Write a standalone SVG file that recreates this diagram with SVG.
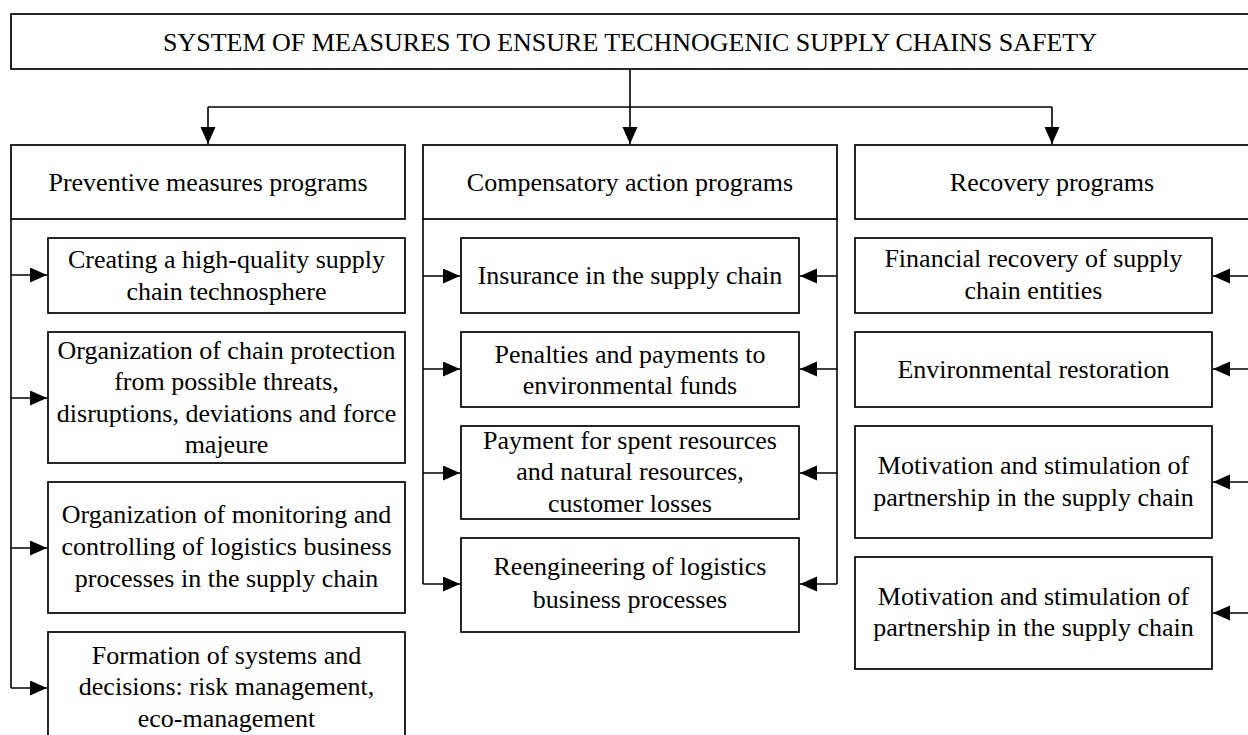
<svg xmlns="http://www.w3.org/2000/svg" width="1248" height="735" viewBox="0 0 1248 735">
  <style>
    .box { fill: #ffffff; stroke: #000000; stroke-width: 1.7; }
    .wire { fill: none; stroke: #000000; stroke-width: 1.6; }
    .lbl { font-family: "Liberation Serif", "Times New Roman", "DejaVu Serif", serif; font-size: 26px; fill: #000000; text-anchor: middle; }
  </style>
  <defs>
    <marker id="arrow" markerUnits="userSpaceOnUse" markerWidth="18" markerHeight="16" refX="17" refY="7.5" orient="auto">
      <path d="M0,0 L17,7.5 L0,15 Z" fill="#000000"/>
    </marker>
  </defs>
  <rect width="1248" height="735" fill="#ffffff"/>

  <!-- connectors -->
  <g id="connectors">
    <!-- root to the three program columns -->
    <path class="wire" d="M630,70 V107"/>
    <path class="wire" d="M208,107 H1052"/>
    <path class="wire" d="M208,107 V144" marker-end="url(#arrow)"/>
    <path class="wire" d="M630,107 V144" marker-end="url(#arrow)"/>
    <path class="wire" d="M1052,107 V144" marker-end="url(#arrow)"/>

    <!-- preventive column bus -->
    <path class="wire" d="M11,219 V688"/>
    <path class="wire" d="M11,275 H47" marker-end="url(#arrow)"/>
    <path class="wire" d="M11,398 H47" marker-end="url(#arrow)"/>
    <path class="wire" d="M11,548 H47" marker-end="url(#arrow)"/>
    <path class="wire" d="M11,688 H47" marker-end="url(#arrow)"/>

    <!-- compensatory column buses -->
    <path class="wire" d="M423,219 V584"/>
    <path class="wire" d="M837,219 V584"/>
    <path class="wire" d="M423,276 H460" marker-end="url(#arrow)"/>
    <path class="wire" d="M423,369 H460" marker-end="url(#arrow)"/>
    <path class="wire" d="M423,473 H460" marker-end="url(#arrow)"/>
    <path class="wire" d="M423,584 H460" marker-end="url(#arrow)"/>
    <path class="wire" d="M837,276 H800" marker-end="url(#arrow)"/>
    <path class="wire" d="M837,369 H800" marker-end="url(#arrow)"/>
    <path class="wire" d="M837,473 H800" marker-end="url(#arrow)"/>
    <path class="wire" d="M837,584 H800" marker-end="url(#arrow)"/>

    <!-- recovery column bus -->
    <path class="wire" d="M1251,219 V613"/>
    <path class="wire" d="M1251,276 H1213" marker-end="url(#arrow)"/>
    <path class="wire" d="M1251,369 H1213" marker-end="url(#arrow)"/>
    <path class="wire" d="M1251,482 H1213" marker-end="url(#arrow)"/>
    <path class="wire" d="M1251,613 H1213" marker-end="url(#arrow)"/>
  </g>

  <!-- root -->
  <g id="root">
    <rect class="box" x="11" y="14" width="1240" height="55"/>
    <text class="lbl" x="630" y="50.5">SYSTEM OF MEASURES TO ENSURE TECHNOGENIC SUPPLY CHAINS SAFETY</text>
  </g>

  <!-- column headers -->
  <g id="preventive">
    <rect class="box" x="11" y="145" width="394" height="74"/>
    <text class="lbl" x="208" y="191">Preventive measures programs</text>
  </g>
  <g id="compensatory">
    <rect class="box" x="423" y="145" width="414" height="74"/>
    <text class="lbl" x="630" y="191">Compensatory action programs</text>
  </g>
  <g id="recovery">
    <rect class="box" x="855" y="145" width="396" height="74"/>
    <text class="lbl" x="1052" y="191">Recovery programs</text>
  </g>

  <!-- preventive measures -->
  <g id="prev-technosphere">
    <rect class="box" x="48" y="238" width="357" height="75"/>
    <text class="lbl" x="226.5" y="268">Creating a high-quality supply</text>
    <text class="lbl" x="226.5" y="300">chain technosphere</text>
  </g>
  <g id="prev-protection">
    <rect class="box" x="48" y="332" width="357" height="131"/>
    <text class="lbl" x="226.5" y="358.5">Organization of chain protection</text>
    <text class="lbl" x="226.5" y="390">from possible threats,</text>
    <text class="lbl" x="226.5" y="421.5">disruptions, deviations and force</text>
    <text class="lbl" x="226.5" y="453">majeure</text>
  </g>
  <g id="prev-monitoring">
    <rect class="box" x="48" y="482" width="357" height="131"/>
    <text class="lbl" x="226.5" y="522.5">Organization of monitoring and</text>
    <text class="lbl" x="226.5" y="554.5">controlling of logistics business</text>
    <text class="lbl" x="226.5" y="586.5">processes in the supply chain</text>
  </g>
  <g id="prev-systems">
    <rect class="box" x="48" y="632" width="357" height="130"/>
    <text class="lbl" x="226.5" y="663.5">Formation of systems and</text>
    <text class="lbl" x="226.5" y="695">decisions: risk management,</text>
    <text class="lbl" x="226.5" y="726.5">eco-management</text>
  </g>

  <!-- compensatory actions -->
  <g id="comp-insurance">
    <rect class="box" x="461" y="238" width="338" height="75"/>
    <text class="lbl" x="630" y="284">Insurance in the supply chain</text>
  </g>
  <g id="comp-penalties">
    <rect class="box" x="461" y="332" width="338" height="75"/>
    <text class="lbl" x="630" y="362.5">Penalties and payments to</text>
    <text class="lbl" x="630" y="394">environmental funds</text>
  </g>
  <g id="comp-payment">
    <rect class="box" x="461" y="426" width="338" height="93"/>
    <text class="lbl" x="630" y="448.5">Payment for spent resources</text>
    <text class="lbl" x="630" y="480">and natural resources,</text>
    <text class="lbl" x="630" y="511.5">customer losses</text>
  </g>
  <g id="comp-reengineering">
    <rect class="box" x="461" y="538" width="338" height="94"/>
    <text class="lbl" x="630" y="575">Reengineering of logistics</text>
    <text class="lbl" x="630" y="607.5">business processes</text>
  </g>

  <!-- recovery -->
  <g id="rec-financial">
    <rect class="box" x="855" y="238" width="357" height="75"/>
    <text class="lbl" x="1033.5" y="267">Financial recovery of supply</text>
    <text class="lbl" x="1033.5" y="298.5">chain entities</text>
  </g>
  <g id="rec-environment">
    <rect class="box" x="855" y="332" width="357" height="75"/>
    <text class="lbl" x="1033.5" y="378">Environmental restoration</text>
  </g>
  <g id="rec-partnership-1">
    <rect class="box" x="855" y="426" width="357" height="112"/>
    <text class="lbl" x="1033.5" y="474">Motivation and stimulation of</text>
    <text class="lbl" x="1033.5" y="505.5">partnership in the supply chain</text>
  </g>
  <g id="rec-partnership-2">
    <rect class="box" x="855" y="557" width="357" height="112"/>
    <text class="lbl" x="1033.5" y="604.5">Motivation and stimulation of</text>
    <text class="lbl" x="1033.5" y="636">partnership in the supply chain</text>
  </g>
</svg>
